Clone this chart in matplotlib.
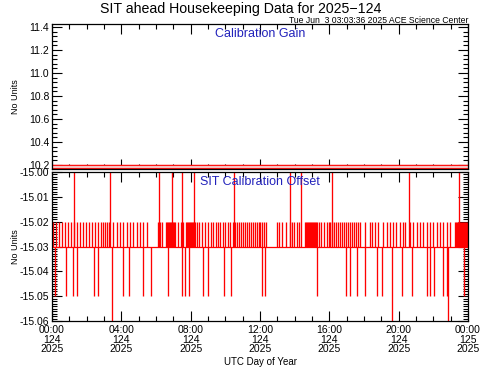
import matplotlib
matplotlib.use("Agg")
import matplotlib.pyplot as plt
from matplotlib.ticker import MultipleLocator, FormatStrFormatter

plt.rcParams['font.family'] = ['Liberation Sans', 'DejaVu Sans']

# time axis: hours of day 124 (2025)
tick_hours = [0, 4, 8, 12, 16, 20, 24]
tick_labels = ["00:00\n124\n2025", "04:00\n124\n2025", "08:00\n124\n2025",
               "12:00\n124\n2025", "16:00\n124\n2025", "20:00\n124\n2025",
               "00:00\n125\n2025"]

# calibration gain (constant over the day)
gain_hours = [0.0, 24.0]
gain_vals = [10.185, 10.185]

# calibration offset: baseline plus excursions
offset_base = -15.03
up_000_hours = [1.27, 3.35, 6.17, 6.92, 7.50, 8.19, 10.50, 13.73, 14.36,
                16.15, 20.60, 23.48]
down_006_hours = [3.46, 19.62, 22.85]
down_005_hours = [0.17, 0.81, 1.19, 1.46, 2.42, 2.65, 4.08, 4.46, 5.27, 5.69,
                  6.71, 7.48, 7.67, 7.92, 8.73, 9.02, 9.92, 10.31, 12.13, 12.29,
                  15.31, 16.96, 17.19, 17.58, 18.06, 18.77, 19.02, 20.21, 20.79,
                  21.62, 21.81, 22.06, 22.57, 22.77, 23.77]
up_002_hours = [0.06, 0.23, 0.40, 0.58, 0.75, 0.92, 1.10, 1.27, 1.44, 1.62,
                1.79, 1.96, 2.13, 2.31, 2.48, 2.65, 2.83, 2.94, 3.06, 3.17, 3.29,
                3.52, 3.75, 3.92, 4.10, 4.33, 4.50, 4.67, 4.90, 5.08, 5.25, 5.48,
                6.12, 6.23, 6.35, 6.58, 6.63, 6.69, 6.75, 6.81, 6.87, 6.92, 6.98,
                7.04, 7.10, 7.27, 7.44, 7.56, 7.73, 7.79, 7.85, 7.90, 7.96, 8.02,
                8.08, 8.13, 8.19, 8.25, 8.37, 8.48,
                8.65, 8.83, 9.00, 9.17, 9.29, 9.46, 9.58, 9.69, 9.87, 9.98, 10.15,
                10.27, 10.44, 10.56, 10.67, 10.79, 10.90, 11.02, 11.13, 11.25,
                11.37, 11.48, 11.60, 11.71, 11.83, 11.94,
                12.00, 12.12, 12.23, 12.35, 12.98, 13.10, 13.27, 13.50, 13.73,
                13.85, 13.96, 14.13, 14.25, 14.60, 14.65, 14.71, 14.77, 14.83,
                14.88, 14.94, 15.00, 15.06, 15.12, 15.17, 15.23, 15.29, 15.40,
                15.52, 15.69, 15.87, 15.98, 16.04, 16.15, 16.27, 16.38, 16.50,
                16.62, 16.73, 16.85, 16.96, 17.08, 17.19, 17.31, 17.42, 17.54,
                17.65, 17.77, 18.06, 18.35, 18.46, 18.63, 18.81, 19.10, 19.33,
                19.50, 19.67, 19.85, 20.08, 20.25, 20.37, 20.65, 20.83, 21.06,
                21.23, 21.40, 21.63, 21.81, 21.98, 22.21, 22.38, 22.56, 22.79,
                22.96, 23.25, 23.31, 23.37, 23.42, 23.48, 23.54, 23.60, 23.65,
                23.71, 23.77, 23.83, 23.88, 23.94]

fig = plt.figure(figsize=(4.81, 3.70), dpi=100)
ax1 = fig.add_axes([0.1081, 0.5432, 0.8649, 0.3919])
ax2 = fig.add_axes([0.1081, 0.1324, 0.8649, 0.4027])


def style(ax):
    ax.set_xlim(0, 24)
    ax.xaxis.set_major_locator(MultipleLocator(4))
    ax.xaxis.set_minor_locator(MultipleLocator(1))
    ax.tick_params(which='both', direction='in', top=True, right=True,
                   labelsize=7.5, width=0.8, pad=2)
    ax.tick_params(which='major', length=7)
    ax.tick_params(which='minor', length=3.5)
    for s in ax.spines.values():
        s.set_linewidth(0.9)
    ax.set_ylabel("No Units", fontsize=6.5)
    ax.yaxis.set_label_coords(-0.078, 0.5)


# top panel
style(ax1)
ax1.plot(gain_hours, gain_vals, color='red', lw=3.2, solid_capstyle='butt')
ax1.plot(gain_hours, gain_vals, color='#f6c4c4', lw=1.6, solid_capstyle='butt')
ax1.set_ylim(10.165, 11.426)
ax1.yaxis.set_major_locator(MultipleLocator(0.2))
ax1.yaxis.set_minor_locator(MultipleLocator(0.04))
ax1.yaxis.set_major_formatter(FormatStrFormatter('%.1f'))
ax1.set_xticks(tick_hours)
ax1.tick_params(labelbottom=False)
ax1.text(0.5, 0.93, "Calibration Gain", transform=ax1.transAxes,
         ha='center', va='center', color='#2222bb', fontsize=9, zorder=5)

# bottom panel
style(ax2)
ax2.hlines(offset_base, 0, 24, color='red', lw=0.9)
ax2.vlines(up_002_hours, offset_base, -15.02, color='red', lw=0.95)
ax2.vlines(up_000_hours, offset_base, -15.00, color='red', lw=0.95)
ax2.vlines(down_005_hours, offset_base, -15.05, color='red', lw=0.95)
ax2.vlines(down_006_hours, offset_base, -15.06, color='red', lw=0.95)
ax2.set_ylim(-15.06, -15.00)
ax2.yaxis.set_major_locator(MultipleLocator(0.01))
ax2.yaxis.set_minor_locator(MultipleLocator(0.001))
ax2.yaxis.set_major_formatter(FormatStrFormatter('%.2f'))
ax2.set_xticks(tick_hours)
ax2.set_xticklabels(tick_labels, linespacing=0.95)
ax2.tick_params(axis='x', pad=3)
ax2.text(0.5, 0.93, "SIT Calibration Offset", transform=ax2.transAxes,
         ha='center', va='center', color='#2222bb', fontsize=9, zorder=5)

ax_mid = 0.1081 + 0.8649 / 2
fig.text(ax_mid, 0.022, "UTC Day of Year", ha='center', va='center', fontsize=7)
fig.text(0.5, 0.976, "SIT ahead Housekeeping Data for 2025\u2212124",
         ha='center', va='center', fontsize=10.2)
fig.text(0.973, 0.944, "Tue Jun  3 03:03:36 2025 ACE Science Center",
         ha='right', va='center', fontsize=6.2)

fig.savefig("out.png", dpi=100)
